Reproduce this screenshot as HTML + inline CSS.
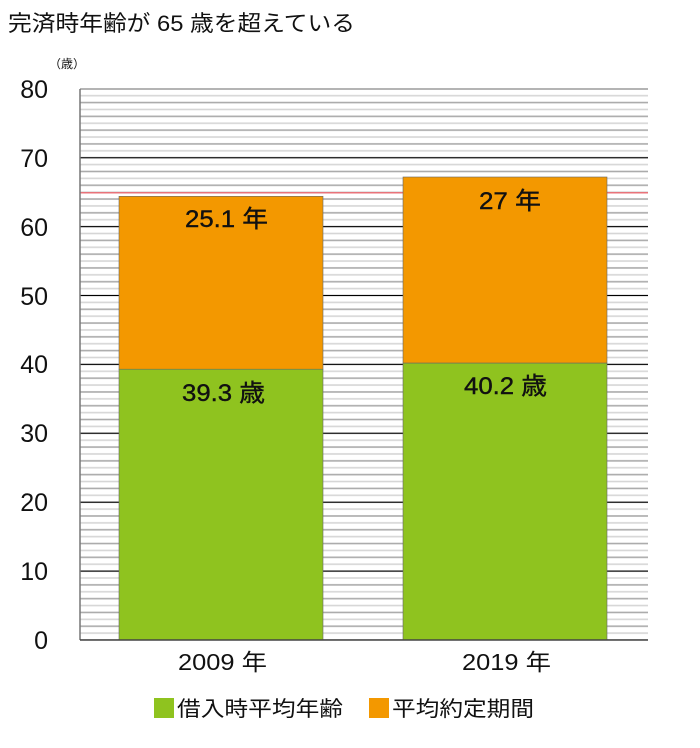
<!DOCTYPE html><html><head><meta charset="utf-8"><style>body{margin:0;background:#fff;width:700px;height:743px;overflow:hidden}</style></head><body>
<svg width="700" height="743" xmlns="http://www.w3.org/2000/svg" font-family="Liberation Sans, Noto Sans CJK JP, sans-serif">
<defs>
<pattern id="p" patternUnits="userSpaceOnUse" x="0" y="6.12" width="700" height="13.78">
<rect x="0" y="-0.8" width="700" height="1.6" fill="#aaaaaa"/>
<rect x="0" y="13.78" width="700" height="1.6" fill="#aaaaaa" transform="translate(0,-0.8)"/>
<rect x="0" y="6.09" width="700" height="1.6" fill="#d6d6d6"/>
</pattern>
</defs>
<text x="8" y="31" font-size="22" fill="#111" textLength="347" lengthAdjust="spacingAndGlyphs">完済時年齢が 65 歳を超えている</text>
<text x="49" y="68" font-size="12" fill="#111">（歳）</text>
<rect x="80" y="90" width="568" height="550" fill="url(#p)"/>
<g stroke="#000" stroke-width="1">
<line x1="80" x2="648" y1="571.1" y2="571.1"/>
<line x1="80" x2="648" y1="502.2" y2="502.2"/>
<line x1="80" x2="648" y1="433.3" y2="433.3"/>
<line x1="80" x2="648" y1="364.4" y2="364.4"/>
<line x1="80" x2="648" y1="295.5" y2="295.5"/>
<line x1="80" x2="648" y1="226.6" y2="226.6"/>
<line x1="80" x2="648" y1="157.7" y2="157.7"/>
</g>
<line x1="80" x2="648" y1="89" y2="89" stroke="#888" stroke-width="1.2"/>
<g font-size="25" text-anchor="end" fill="#111">
<text x="48" y="649">0</text>
<text x="48" y="580">10</text>
<text x="48" y="511">20</text>
<text x="48" y="442">30</text>
<text x="48" y="373">40</text>
<text x="48" y="305">50</text>
<text x="48" y="236">60</text>
<text x="48" y="167">70</text>
<text x="48" y="98">80</text>
</g>
<line x1="80" x2="648" y1="192.7" y2="192.7" stroke="#e8737a" stroke-width="1.5"/>
<line x1="80" x2="80" y1="89" y2="640" stroke="#777" stroke-width="1.5"/>
<rect x="119" y="369.2" width="204" height="270.8" fill="#8fc31f" stroke="#666" stroke-width="0.6"/>
<rect x="119" y="196.3" width="204" height="172.9" fill="#f39800" stroke="#666" stroke-width="0.6"/>
<rect x="403" y="363" width="204" height="277" fill="#8fc31f" stroke="#666" stroke-width="0.6"/>
<rect x="403" y="177" width="204" height="186" fill="#f39800" stroke="#666" stroke-width="0.6"/>
<line x1="80" x2="648" y1="640" y2="640" stroke="#444" stroke-width="1.5"/>
<g font-size="24" fill="#111" stroke="#111" stroke-width="0.4">
<text x="185" y="227" textLength="83" lengthAdjust="spacingAndGlyphs">25.1 年</text>
<text x="479" y="209" textLength="62" lengthAdjust="spacingAndGlyphs">27 年</text>
<text x="182" y="401" textLength="83" lengthAdjust="spacingAndGlyphs">39.3 歳</text>
<text x="464" y="394" textLength="83" lengthAdjust="spacingAndGlyphs">40.2 歳</text>
</g>
<text x="178" y="670" font-size="23" fill="#111" textLength="89" lengthAdjust="spacingAndGlyphs">2009 年</text>
<text x="462" y="670" font-size="23" fill="#111" textLength="89" lengthAdjust="spacingAndGlyphs">2019 年</text>
<rect x="154" y="698" width="20" height="20" fill="#8fc31f"/>
<text x="177" y="716" font-size="21" fill="#111" textLength="166" lengthAdjust="spacingAndGlyphs">借入時平均年齢</text>
<rect x="369" y="698" width="20" height="20" fill="#f39800"/>
<text x="392" y="716" font-size="21" fill="#111" textLength="142" lengthAdjust="spacingAndGlyphs">平均約定期間</text>
</svg></body></html>
